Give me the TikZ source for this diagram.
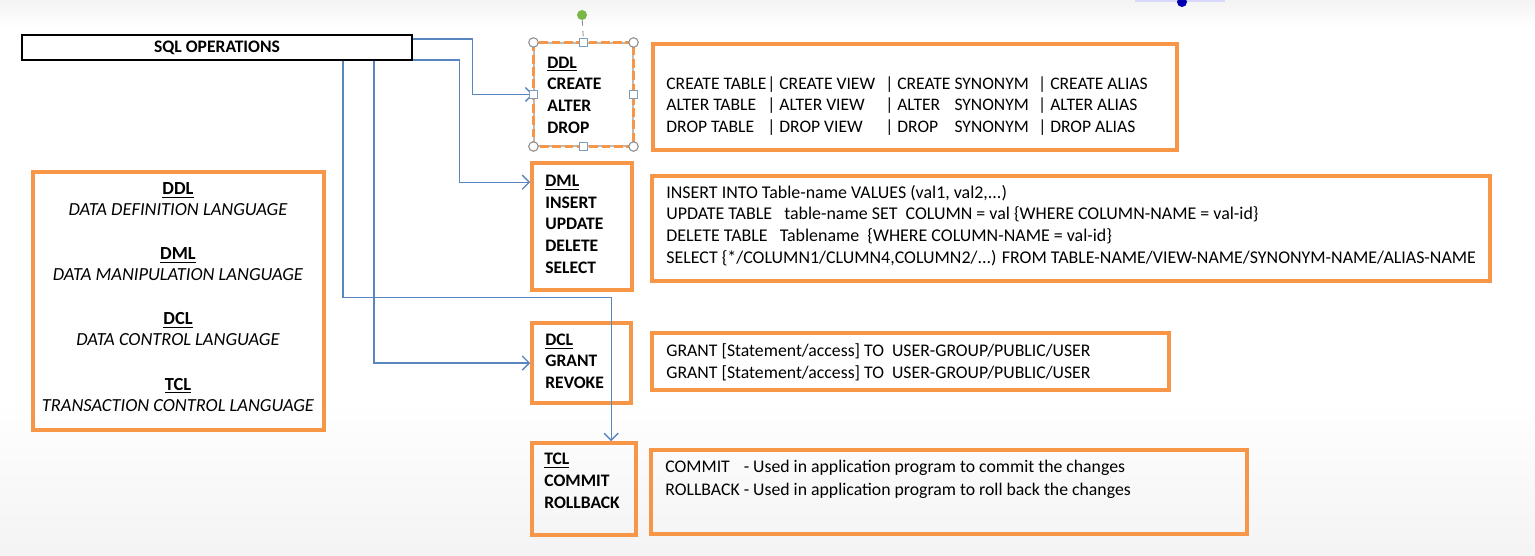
\documentclass[tikz,border=0pt]{standalone}
\usepackage{fontspec}
\setmainfont{Carlito}
\usetikzlibrary{arrows.meta,fit}

\definecolor{boxorange}{HTML}{F79646}
\definecolor{linkblue}{HTML}{5A86C0}
\definecolor{handlegrey}{HTML}{8C8C8C}
\definecolor{handleblue}{HTML}{7F9DB9}
\definecolor{rotgreen}{HTML}{7AB648}

% one row of the DDL command box
\newcommand{\ddlrow}[4]{\makebox[2.02cm][l]{#1}\makebox[2.36cm][l]{| #2}\makebox[3.06cm][l]{| \rlap{#3}\phantom{CREATE} SYNONYM}| #4}

\tikzset{
  catbox/.style={draw=boxorange, line width=2pt, inner sep=0pt},
  cmdbox/.style={draw=boxorange, line width=2pt, inner sep=0pt},
  cattext/.style={font=\fontsize{10}{12.3}\selectfont\bfseries, align=left, anchor=base west, inner sep=0pt},
  cmdtext/.style={font=\fontsize{10.1}{12.2}\selectfont, align=left, anchor=base west, inner sep=0pt},
  link/.style={draw=linkblue, line width=0.8pt, -{Straight Barb[length=4pt,width=8pt]}},
  cornerhandle/.style={circle, draw=handlegrey, fill=white, line width=0.6pt, minimum size=0.19cm, inner sep=0pt},
  sidehandle/.style={rectangle, draw=handleblue, fill=white, line width=0.6pt, minimum size=0.15cm, inner sep=0pt}
}

\begin{document}
\begin{tikzpicture}[x=0.02cm, y=-0.02cm]
    \useasboundingbox (0,0) rectangle (1535,555);
    % background
    \fill[white] (0,0) rectangle (1535,555);
    \shade[top color=gray!9, bottom color=white] (0,0) rectangle (1535,28);
    \shade[top color=white, bottom color=gray!9] (0,400) rectangle (1535,555);
    \fill[blue!15] (1135,0) rectangle (1225,2);
    \fill[blue!70!black] (1182,2) circle (5);

    % title
    \node[draw=black, line width=1.1pt, inner sep=0pt, font=\bfseries, minimum width=7.8cm, minimum height=0.5cm] (sql) at (217,47.5) {SQL OPERATIONS};

    % legend (anchored on the last line)
    \node[cmdbox, fit={(33,172) (324,430)}] (legend) {};
    \node[font=\fontsize{10.5}{11.9}\selectfont, align=center, anchor=base, inner sep=0pt] (legendtxt) at (178,411)
        {\textbf{\underline{DDL}}\\ \textit{DATA DEFINITION LANGUAGE}\\[13.3pt]
         \textbf{\underline{DML}}\\ \textit{DATA MANIPULATION LANGUAGE}\\[13.3pt]
         \textbf{\underline{DCL}}\\ \textit{DATA CONTROL LANGUAGE}\\[13.3pt]
         \textbf{\underline{TCL}}\\ \textit{TRANSACTION CONTROL LANGUAGE}};

    % statement groups
    \node[draw=handlegrey!60, line width=0.6pt, inner sep=0pt, fit={(534,43) (633,146)}] (ddl) {};
    \node[catbox, fit={(532,163) (632,290)}] (dml) {};
    \node[catbox, fit={(532,323) (631,403)}] (dcl) {};
    \node[catbox, fit={(532,443) (636,535)}] (tcl) {};

    \node[cattext] (ddltxt) at (547,133) {\underline{DDL}\\CREATE\\ALTER\\DROP};
    \node[cattext] (dmltxt) at (545,273) {\underline{DML}\\INSERT\\UPDATE\\DELETE\\SELECT};
    \node[cattext] (dcltxt) at (545,388.5) {\underline{DCL}\\GRANT\\REVOKE};
    \node[cattext] (tcltxt) at (544,508) {\underline{TCL}\\COMMIT\\ROLLBACK};

    % commands
    \node[cmdbox, fit={(653,44) (1177,150)}] (ddlcmd) {};
    \node[cmdbox, fit={(652,176) (1490,281)}] (dmlcmd) {};
    \node[cmdbox, fit={(652,333) (1169,390)}] (dclcmd) {};
    \node[cmdbox, fit={(651,450) (1247,534)}] (tclcmd) {};

    \node[cmdtext, font=\fontsize{10}{12.2}\selectfont] (ddlcmdtxt) at (666,132)
        {\ddlrow{CREATE TABLE}{CREATE VIEW}{CREATE}{CREATE ALIAS}\\
         \ddlrow{ALTER TABLE}{ALTER VIEW}{ALTER}{ALTER ALIAS}\\
         \ddlrow{DROP TABLE}{DROP VIEW}{DROP}{DROP ALIAS}};
    \node[cmdtext, font=\fontsize{10.2}{12.3}\selectfont] (dmlcmdtxt) at (666,263)
        {INSERT INTO Table-name VALUES (val1, val2,...)\\
         UPDATE TABLE\ \ \ table-name SET\ \ COLUMN = val \{WHERE COLUMN-NAME = val-id\}\\
         DELETE TABLE\ \ \ Tablename\ \ \{WHERE COLUMN-NAME = val-id\}\\
         SELECT \{*/COLUMN1/CLUMN4,COLUMN2/...) FROM TABLE-NAME/VIEW-NAME/SYNONYM-NAME/ALIAS-NAME};
    \node[cmdtext] (dclcmdtxt) at (666,378)
        {GRANT [Statement/access] TO\ \ USER-GROUP/PUBLIC/USER\\
         GRANT [Statement/access] TO\ \ USER-GROUP/PUBLIC/USER};
    \node[cmdtext, font=\fontsize{10.1}{13}\selectfont] (tclcmdtxt) at (665,495)
        {\rlap{COMMIT}\phantom{ROLLBACK} - Used in application program to commit the changes\\
         ROLLBACK - Used in application program to roll back the changes};

    % links
    \draw[link] ([yshift=-0.1cm]sql.north east) -| ([xshift=-1.22cm]ddl.west) -- (ddl.west);
    \draw[link] ([yshift=0.02cm]sql.south east) -| ([xshift=-1.42cm,yshift=-0.42cm]dml.north west) -- ([yshift=-0.42cm]dml.north west);
    \draw[link] ([xshift=6.44cm]sql.south west) |- ([xshift=1.62cm,yshift=2.88cm]tcl.north west) -- ([xshift=1.62cm]tcl.north west);
    \draw[link] ([xshift=7.06cm]sql.south west) |- (dcl.west);

    % selection handles
    \draw[dash pattern=on 5pt off 2pt, draw=boxorange, line width=1.4pt] (ddl.north west) rectangle (ddl.south east);
    \node[circle, fill=rotgreen, minimum size=0.2cm, inner sep=0pt] (rot) at (582,15) {};
    \draw[dashed, draw=handlegrey, line width=0.5pt] (rot) -- (ddl.north);
    \foreach \h in {north west, north east, south west, south east}
        \node[cornerhandle] at (ddl.\h) {};
    \foreach \h in {north, south, west, east}
        \node[sidehandle] at (ddl.\h) {};
\end{tikzpicture}
\end{document}
